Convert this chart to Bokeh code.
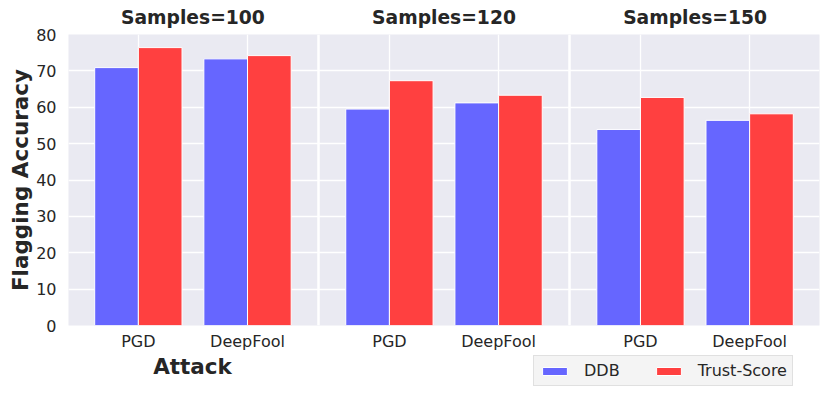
from bokeh.plotting import figure
from bokeh.layouts import column
from bokeh.models import (FactorRange, CategoricalAxis, Legend, LegendItem, Label,
                          ColumnDataSource, Range1d, SingleIntervalTicker)
from bokeh.transform import dodge
from bokeh.embed import file_html
from bokeh.resources import INLINE

# ---- data ----
samples = ["Samples=100", "Samples=120", "Samples=150"]
attacks = ["PGD", "DeepFool"]
ddb = [70.9, 73.3, 59.5, 61.2, 53.9, 56.4]
trust_score = [76.4, 74.2, 67.3, 63.3, 62.7, 58.2]
series_names = ["DDB", "Trust-Score"]

# ---- style ----
FONT = "DejaVu Sans"
TXT = "#262626"
BG = "#eaeaf2"
COL_DDB = "#6666ff"
COL_TS = "#ff4040"
GROUP_PAD = 0.30
SIDE_PAD = 0.14  # padding on each side of the factor range

factors = [(s, a) for s in samples for a in attacks]
src = ColumnDataSource(dict(x=factors, ddb=ddb, ts=trust_score))

x_range = FactorRange(factors=factors, factor_padding=0.0, group_padding=GROUP_PAD,
                      range_padding=SIDE_PAD, range_padding_units="absolute")

p = figure(width=830, height=353, x_range=x_range, y_range=Range1d(0, 80),
           output_backend="svg", toolbar_location=None,
           min_border_left=68, min_border_right=11, min_border_top=34, min_border_bottom=28,
           background_fill_color=BG, border_fill_color="white", outline_line_color=None)

# extra range for facet titles (aligned with group centres)
n_att = len(attacks)
p.extra_x_ranges = {"groups": FactorRange(factors=samples,
                                          factor_padding=n_att - 1 + GROUP_PAD,
                                          range_padding=SIDE_PAD + (n_att - 1) / 2,
                                          range_padding_units="absolute")}

bar_kw = dict(width=0.4, source=src, line_color="white", line_width=1)
p.vbar(x=dodge("x", -0.2, range=x_range), top="ddb", fill_color=COL_DDB, **bar_kw)
p.vbar(x=dodge("x", 0.2, range=x_range), top="ts", fill_color=COL_TS, **bar_kw)

# panel separators (white gaps between facets)
seps = [(s, attacks[-1], 0.5 + GROUP_PAD / 2) for s in samples[:-1]]
p.vspan(x=seps, line_color="white", line_width=2.5)

# grid
p.xgrid.grid_line_color = "white"
p.xgrid.grid_line_width = 1.3
p.ygrid.grid_line_color = "white"
p.ygrid.grid_line_width = 1.3

# x axis (category labels)
xa = p.xaxis[0]
xa.major_label_text_font = FONT
xa.major_label_text_font_size = "16px"
xa.major_label_text_color = TXT
xa.major_label_standoff = 0
xa.group_text_font_size = "0px"
xa.group_text_alpha = 0
xa.separator_line_color = None
xa.axis_line_color = None
xa.major_tick_line_color = None
xa.minor_tick_line_color = None

# y axis
p.yaxis.ticker = SingleIntervalTicker(interval=10)
p.yaxis.axis_label = "Flagging Accuracy"
p.yaxis.axis_label_text_font = FONT
p.yaxis.axis_label_text_font_style = "bold"
p.yaxis.axis_label_text_font_size = "21.5px"
p.yaxis.axis_label_text_color = TXT
p.yaxis.axis_label_standoff = 0
p.yaxis.major_label_text_font = FONT
p.yaxis.major_label_text_font_size = "16px"
p.yaxis.major_label_text_color = TXT
p.yaxis.axis_line_color = None
p.yaxis.major_tick_line_color = None
p.yaxis.minor_tick_line_color = None
p.yaxis.major_label_standoff = 6

# facet titles on top
top_axis = CategoricalAxis(x_range_name="groups")
top_axis.major_label_text_font = FONT
top_axis.major_label_text_font_style = "bold"
top_axis.major_label_text_font_size = "18.7px"
top_axis.major_label_text_color = TXT
top_axis.major_label_standoff = 1
top_axis.axis_line_color = None
top_axis.major_tick_line_color = None
top_axis.minor_tick_line_color = None
p.add_layout(top_axis, "above")

# ---- bottom strip: x-axis title and legend ----
q = figure(width=830, height=43, x_range=x_range, y_range=Range1d(1000, 1001),
           output_backend="svg", toolbar_location=None,
           x_axis_location=None, y_axis_location=None,
           min_border_left=68, min_border_right=11, min_border_top=0, min_border_bottom=0,
           background_fill_color="white", border_fill_color="white", outline_line_color=None)
q.grid.visible = False

# legend entries are tied to the same bar series (they lie outside this strip's y range)
l1 = q.vbar(x=dodge("x", -0.2, range=x_range), top="ddb", fill_color=COL_DDB, **bar_kw)
l2 = q.vbar(x=dodge("x", 0.2, range=x_range), top="ts", fill_color=COL_TS, **bar_kw)

q.add_layout(Label(x=124, y=30, x_units="screen", y_units="screen", text="Attack",
                   text_align="center", text_baseline="middle",
                   text_font=FONT, text_font_style="bold", text_font_size="21.5px",
                   text_color=TXT))

legend = Legend(items=[LegendItem(label=series_names[0], renderers=[l1]),
                       LegendItem(label=series_names[1], renderers=[l2])],
                orientation="horizontal", location=(465, 10),
                label_text_font=FONT, label_text_font_size="16px", label_text_color=TXT,
                glyph_width=31, glyph_height=10, label_standoff=14, spacing=33,
                padding=5, margin=0,
                background_fill_color="#f4f4f4", background_fill_alpha=1.0,
                border_line_color="#cccccc", border_line_width=1)
q.add_layout(legend, "center")

layout = column(p, q, spacing=0)
open("out.html", "w").write(file_html(layout, INLINE))
